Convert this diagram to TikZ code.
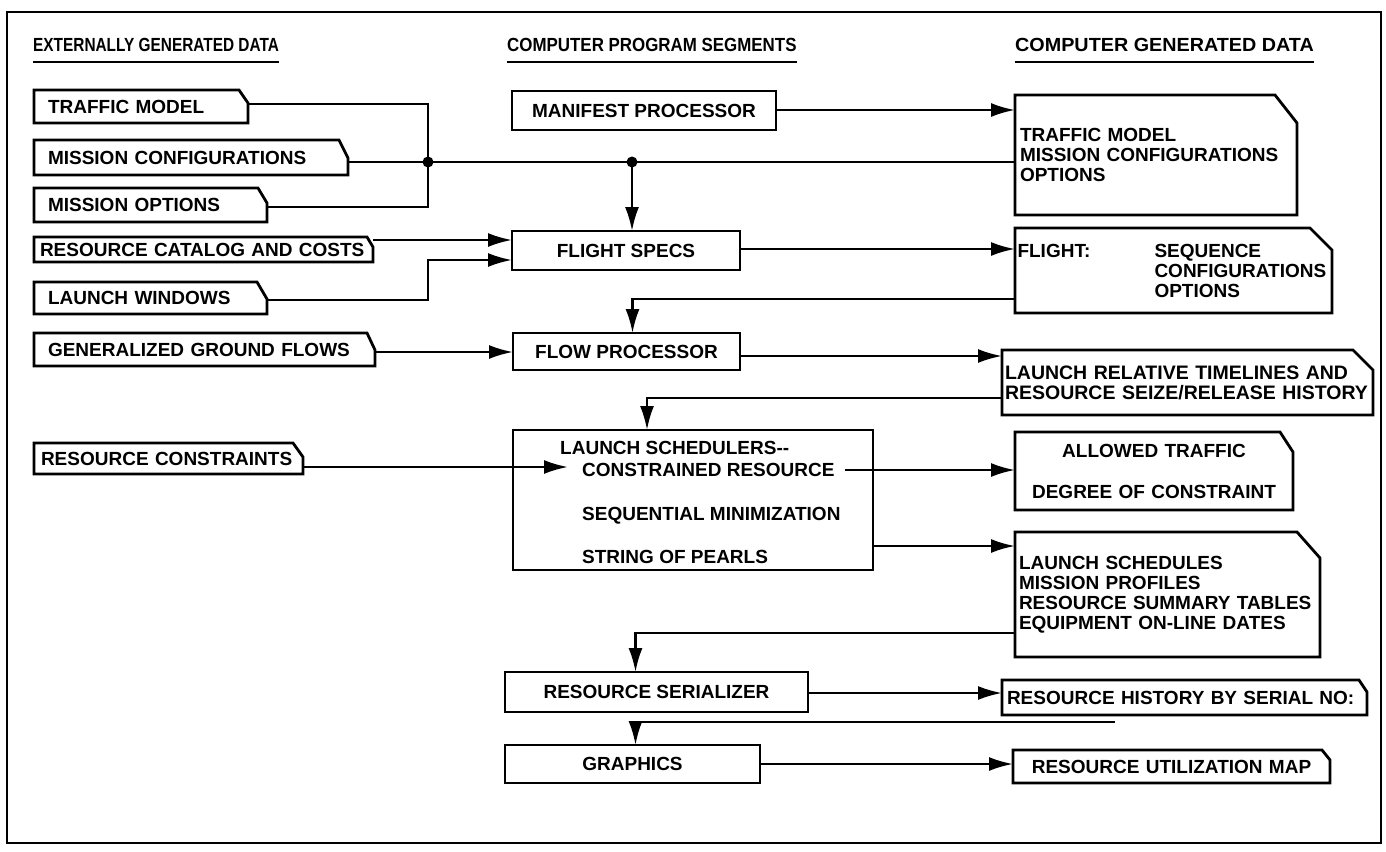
\documentclass[tikz,border=0pt]{standalone}
\usepackage{fontspec}
\setmainfont{Liberation Sans}
\usetikzlibrary{arrows.meta}
\newcommand\mychamf[3]{\draw[bl] (#1.south west) -- (#1.north west) -- ([xshift=-#2pt]#1.north east) -- ([yshift=-#3pt]#1.north east) -- (#1.south east) -- cycle;}
\tikzset{
  lbl/.style={font=\bfseries\fontsize{19}{20}\selectfont},
  pbox/.style={lbl, inner sep=0pt, outer sep=0pt, anchor=north west, align=left},
  mbox/.style={lbl, draw, line width=2.8pt, inner sep=0pt, outer sep=0pt, anchor=north west, align=center},
  bl/.style={line width=2.8pt, line join=miter},
  wire/.style={line width=2.5pt},
  arr/.style={wire, -{Latex[length=24pt,width=14pt]}},
  hd/.style={font=\bfseries\fontsize{19}{20}\selectfont, anchor=west, inner sep=0pt},
  ul/.style={line width=2.6pt},
  jdot/.style={circle, fill, inner sep=0pt, minimum size=11pt},
  txt/.style={lbl, anchor=west, inner sep=0pt},
  frame/.style={line width=2.6pt}
}
\begin{document}
\begin{tikzpicture}[x=1pt,y=-1pt]
\useasboundingbox (0,0) rectangle (1386,851);
\draw[frame] (7,12) rectangle (1381,843);

% headings
\node[hd] (h1) at (33,45) {\scalebox{0.81}[1]{EXTERNALLY GENERATED DATA}};
\node[hd] (h2) at (507,45) {\scalebox{0.89}[1]{COMPUTER PROGRAM SEGMENTS}};
\node[hd] (h3) at (1015,45) {\scalebox{1.04}[1]{COMPUTER GENERATED DATA}};
\foreach \h in {h1,h2,h3} \draw[ul] ([yshift=-10pt]\h.south west) -- ([yshift=-10pt]\h.south east);

% externally generated data
\node[pbox, minimum width=214pt, minimum height=33pt, text width=186pt] (tm) at (34,90) {TRAFFIC MODEL};
\node[pbox, minimum width=314pt, minimum height=35pt, text width=286pt] (mc) at (34,140) {MISSION CONFIGURATIONS};
\node[pbox, minimum width=233pt, minimum height=34pt, text width=205pt] (mo) at (34,188) {MISSION OPTIONS};
\node[pbox, minimum width=339pt, minimum height=25pt, text width=327pt] (rc) at (34,237) {RESOURCE CATALOG AND COSTS};
\node[pbox, minimum width=233pt, minimum height=32pt, text width=205pt] (lw) at (34,282) {LAUNCH WINDOWS};
\node[pbox, minimum width=341pt, minimum height=33pt, text width=313pt] (gg) at (34,333) {GENERALIZED GROUND FLOWS};
\node[pbox, minimum width=269pt, minimum height=31pt, text width=255pt] (rcn) at (34,443) {RESOURCE CONSTRAINTS};

% program segments
\node[mbox, minimum width=264pt, minimum height=39pt] (mp) at (512,91) {MANIFEST PROCESSOR};
\node[mbox, minimum width=228pt, minimum height=39pt] (fs) at (512,231) {FLIGHT SPECS};
\node[mbox, minimum width=227pt, minimum height=37pt] (fp) at (513,333) {FLOW PROCESSOR};
\node[mbox, minimum width=360pt, minimum height=140pt] (ls) at (513,430) {};
\node[txt] (lsA) at (560,448) {LAUNCH SCHEDULERS-{}-};
\node[txt] (lsB) at (582,470) {CONSTRAINED RESOURCE};
\node[txt] (lsC) at (582,516) {SEQUENTIAL MINIMIZATION};
\node[txt] (lsD) at (582,557) {STRING OF PEARLS};
\node[mbox, minimum width=303pt, minimum height=40pt] (rs) at (505,672) {RESOURCE SERIALIZER};
\node[mbox, minimum width=255pt, minimum height=38pt] (gr) at (505,745) {GRAPHICS};

% computer generated data
\node[pbox, minimum width=282pt, minimum height=120pt, text width=272pt] (cg1) at (1015,95) {TRAFFIC MODEL\\MISSION CONFIGURATIONS\\OPTIONS};
\node[pbox, minimum width=317pt, minimum height=85pt, text width=312pt] (fl) at (1015,228) {\makebox[137pt][l]{FLIGHT:}SEQUENCE\\\hspace*{137pt}CONFIGURATIONS\\\hspace*{137pt}OPTIONS};
\node[pbox, minimum width=371pt, minimum height=65pt, text width=365pt, font=\bfseries\fontsize{19.5}{20}\selectfont] (lr) at (1002,350) {LAUNCH RELATIVE TIMELINES AND\\RESOURCE SEIZE/RELEASE HISTORY};
\node[pbox, minimum width=278pt, minimum height=78pt, text width=270pt, align=center] (at1) at (1015,432) {ALLOWED TRAFFIC\\[21pt]DEGREE OF CONSTRAINT};
\node[pbox, minimum width=305pt, minimum height=125pt, text width=297pt] (lsc) at (1015,532) {LAUNCH SCHEDULES\\MISSION PROFILES\\RESOURCE SUMMARY TABLES\\EQUIPMENT ON-LINE DATES};
\node[pbox, minimum width=365pt, minimum height=35pt, text width=355pt] (rh) at (1002,680) {RESOURCE HISTORY BY SERIAL NO:};
\node[pbox, minimum width=317pt, minimum height=33pt, text width=300pt, align=center] (rum) at (1013,750) {RESOURCE UTILIZATION MAP};

\foreach \n/\a/\b in {tm/9/13, mc/9/18, mo/9/15, rc/6/10, lw/10/17, gg/8/17, rcn/10/14, cg1/22/28, fl/22/22, lr/20/20, at1/13/20, lsc/23/26, rh/8/12, rum/8/10} {\mychamf{\n}{\a}{\b}}

% junctions
\node[jdot] (j1) at (428,162) {};
\node[jdot] (j2) at (632,162) {};
\coordinate (rcin) at (568,467);
\coordinate (rhtail) at (1115,722);

% connectors
\draw[wire] (tm.east |- 0,104) -| (j1.center) |- (mo.east |- 0,207);
\draw[wire] (mc.east |- 0,162) -- (cg1.west |- 0,162);
\draw[arr] (j2.center) -- (j2.center |- fs.north);
\draw[arr] (mp.east |- 0,110) -- (cg1.west |- 0,110);
\draw[arr] (rc.east |- 0,240) -- (fs.west |- 0,240);
\draw[arr] (lw.east |- 0,300) -| (428,260) -- (fs.west |- 0,260);
\draw[arr] (fs.east |- 0,249) -- (fl.west |- 0,249);
\draw[arr] (fl.west |- 0,299) -| ([xshift=6pt]fp.north);
\draw[arr] (gg.east |- 0,352) -- (fp.west |- 0,352);
\draw[arr] (fp.east |- 0,356) -- (lr.west |- 0,356);
\draw[arr] (lr.west |- 0,398) -| ([xshift=-46pt]ls.north);
\draw[arr] (rcn.east |- rcin) -- (rcin);
\draw[arr] ([xshift=10pt]lsB.east) -- (lsB.east -| at1.west);
\draw[arr] (ls.east |- 0,546) -- (lsc.west |- 0,546);
\draw[arr] (lsc.west |- 0,633) -| ([xshift=-21pt]rs.north);
\draw[arr] (rs.east |- 0,693) -- (rh.west |- 0,693);
\draw[arr] (rhtail) -| ([xshift=3pt]gr.north);
\draw[arr] (gr.east |- 0,764) -- (rum.west |- 0,764);
\end{tikzpicture}
\end{document}
